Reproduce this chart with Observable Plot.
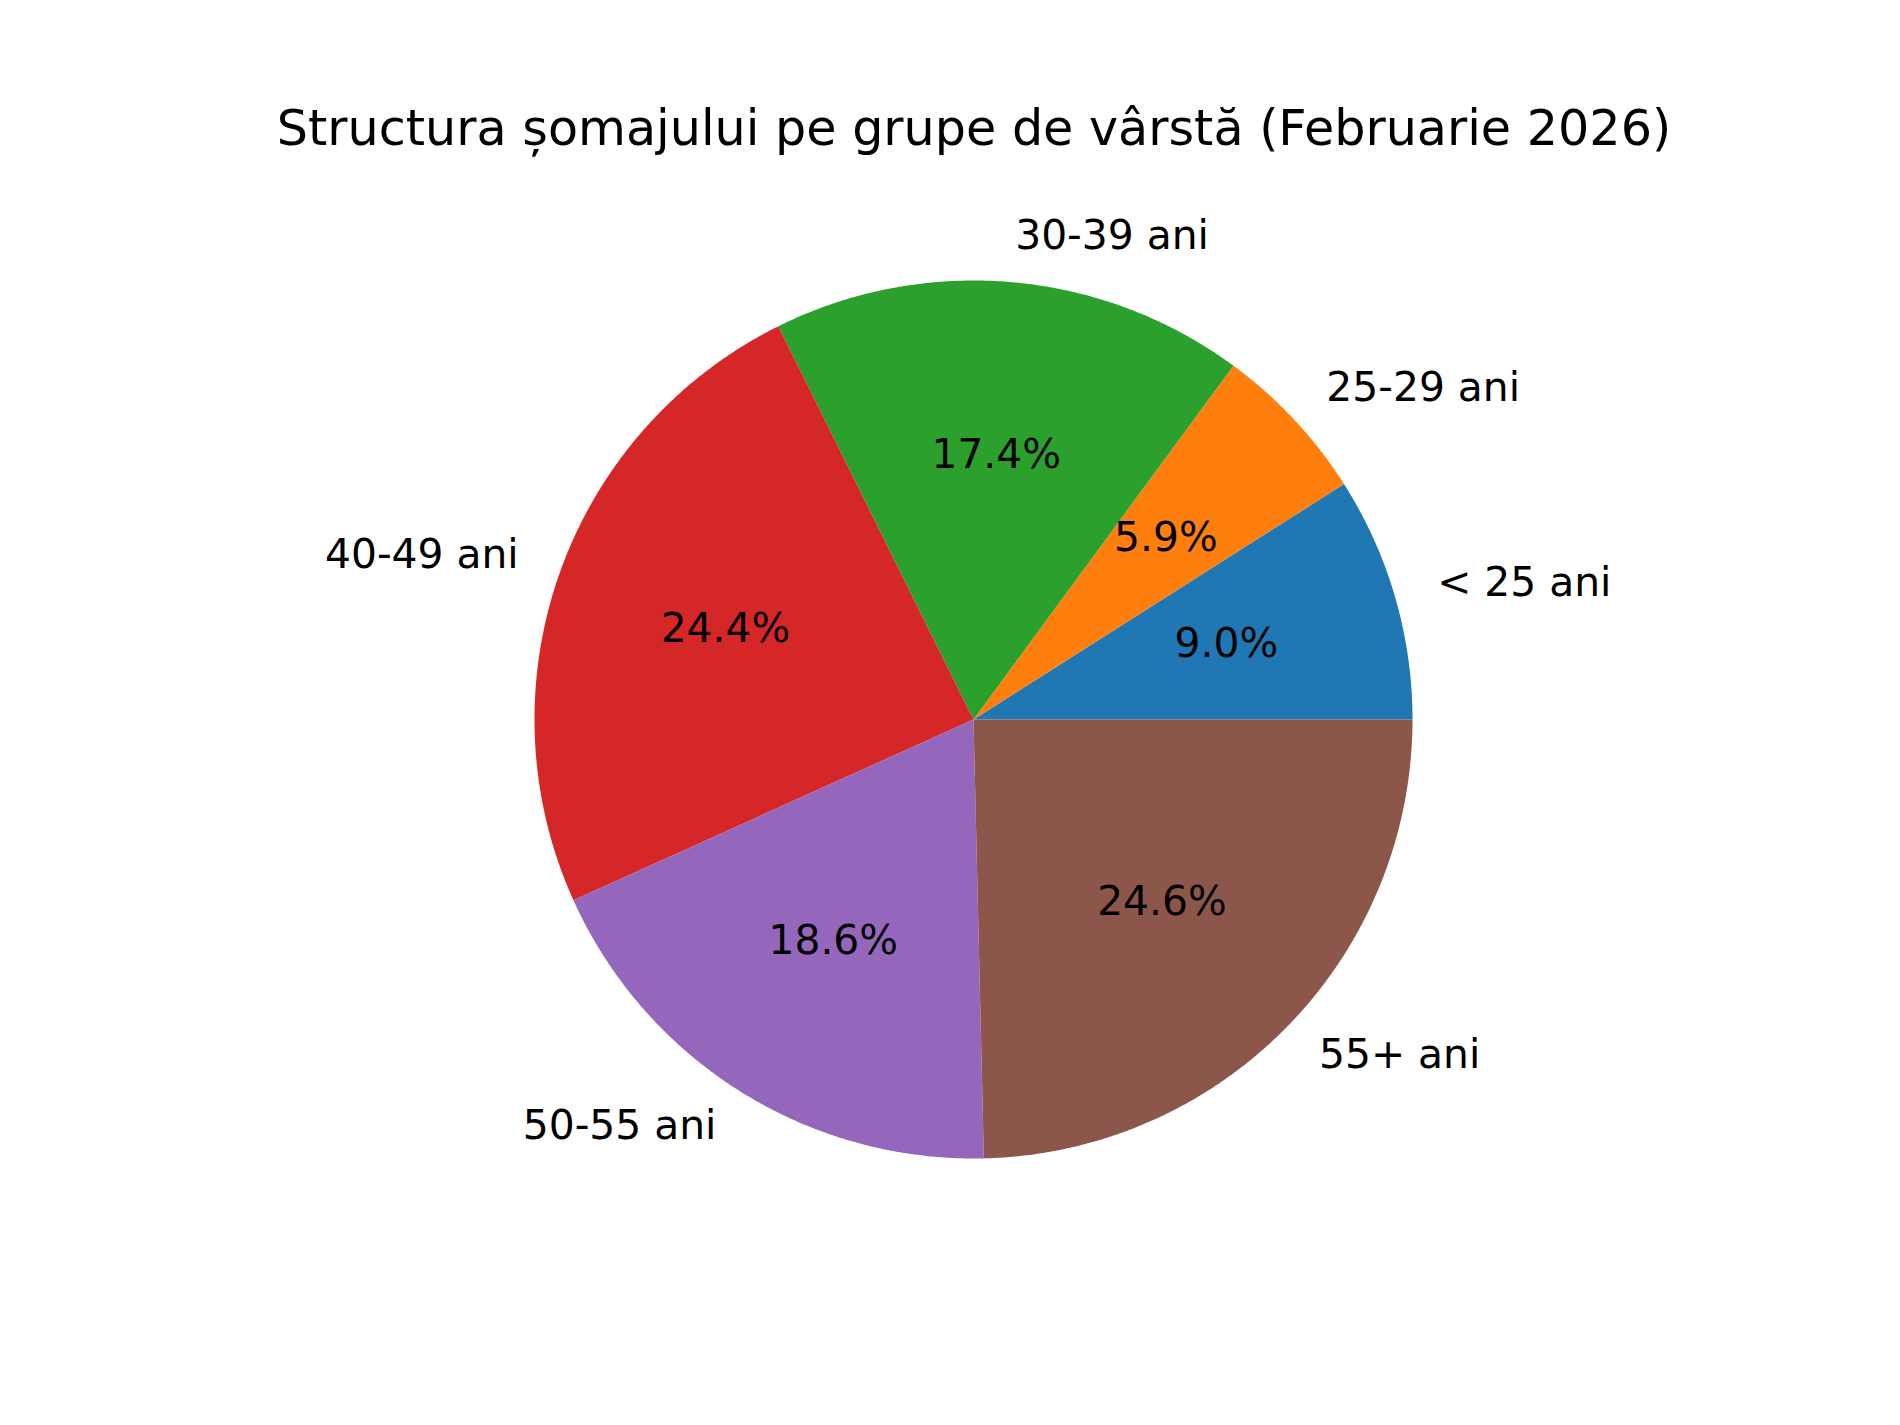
<!DOCTYPE html>
<html>
<head>
<meta charset="utf-8">
<script src="https://cdn.jsdelivr.net/npm/d3@7"></script>
<script src="https://cdn.jsdelivr.net/npm/@observablehq/plot@0.6"></script>
<style>
  html, body { margin: 0; padding: 0; background: #fff; }
  #wrap { position: relative; width: 1900px; height: 1425px; overflow: hidden; }
  #title { position: absolute; left: 974px; top: 0; transform: translateX(-50%); white-space: nowrap;
           font-family: "DejaVu Sans", sans-serif; font-size: 49.2px; line-height: 1.164; padding-top: 100px; color: #000; }
  #chart { position: absolute; left: 0; top: 190px; }
</style>
</head>
<body>
<div id="wrap">
  <div id="title"></div>
  <div id="chart"></div>
</div>
<script>
const title = "Structura șomajului pe grupe de vârstă (Februarie 2026)";
const labels = ["< 25 ani", "25-29 ani", "30-39 ani", "40-49 ani", "50-55 ani", "55+ ani"];
const values = [9.0, 5.9, 17.4, 24.4, 18.6, 24.6];
const colors = ["#1f77b4", "#ff7f0e", "#2ca02c", "#d62728", "#9467bd", "#8c564b"];

document.getElementById("title").textContent = title;

const total = d3.sum(values);
const ends = Array.from(d3.cumsum(values));
const wedges = labels.map((label, i) => {
  const a0 = (ends[i] - values[i]) / total * 2 * Math.PI;
  const a1 = ends[i] / total * 2 * Math.PI;
  const m = (a0 + a1) / 2;
  return {label, value: values[i], a0, a1, m,
    lx: 1.1 * Math.cos(m), ly: 1.1 * Math.sin(m),
    px: 0.6 * Math.cos(m), py: 0.6 * Math.sin(m),
    pct: (values[i] / total * 100).toFixed(1) + "%"};
});

const pts = [];
for (const w of wedges) {
  pts.push({label: w.label, x: 0, y: 0});
  const n = Math.max(2, Math.ceil((w.a1 - w.a0) / (Math.PI / 720)));
  for (let k = 0; k <= n; k++) {
    const a = w.a0 + (w.a1 - w.a0) * k / n;
    pts.push({label: w.label, x: Math.cos(a), y: Math.sin(a)});
  }
  pts.push({label: w.label, x: 0, y: 0});
}

const font = "DejaVu Sans";
const chart = Plot.plot({
  width: 1900,
  height: 1235,
  margin: 0,
  style: {fontFamily: font, background: "white"},
  x: {domain: [-1, 1], range: [534, 1412], axis: null},
  y: {domain: [-1, 1], range: [968, 90], axis: null},
  color: {domain: labels, range: colors},
  marks: [
    Plot.line(pts, {x: "x", y: "y", z: "label", fill: "label", stroke: "none", curve: "linear"}),
    Plot.text(wedges.filter(d => d.lx > 0), {x: "lx", y: "ly", text: "label", textAnchor: "start", lineAnchor: "middle", fontSize: 40.8, fill: "black", dy: -2}),
    Plot.text(wedges.filter(d => d.lx <= 0), {x: "lx", y: "ly", text: "label", textAnchor: "end", lineAnchor: "middle", fontSize: 40.8, fill: "black", dy: -2}),
    Plot.text(wedges, {x: "px", y: "py", text: "pct", textAnchor: "middle", lineAnchor: "middle", fontSize: 40.8, fill: "black", dy: -2})
  ]
});
document.getElementById("chart").appendChild(chart);
</script>
</body>
</html>
